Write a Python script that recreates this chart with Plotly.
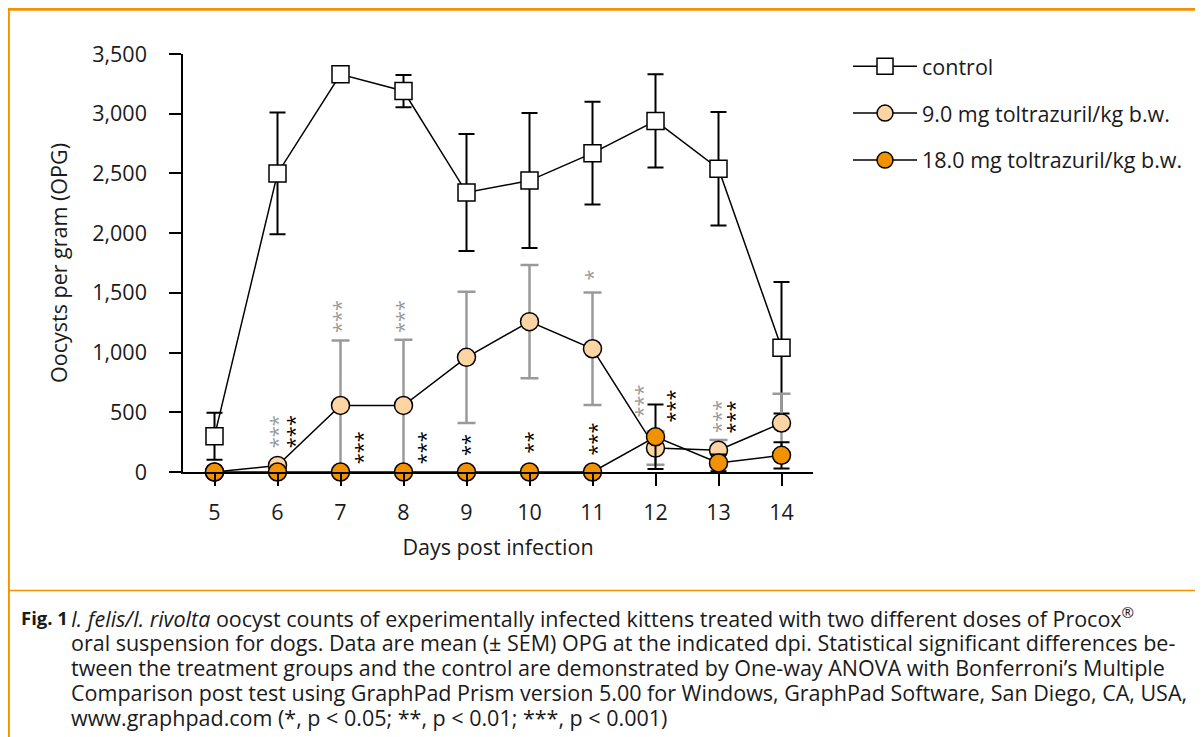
import plotly.graph_objects as go

# ---------------- data ----------------
days = [5, 6, 7, 8, 9, 10, 11, 12, 13, 14]
control_mean = [300, 2500, 3330, 3190, 2340, 2440, 2670, 2940, 2540, 1040]
control_sem = [197, 510, 40, 135, 490, 565, 430, 390, 475, 550]
low_mean = [0, 55, 557, 557, 960, 1259, 1032, 200, 182, 410]
low_sem = [0, 0, 545, 550, 550, 475, 470, 140, 85, 245]
high_mean = [0, 0, 0, 0, 0, 0, 0, 295, 76, 140]
high_sem = [0, 0, 0, 0, 0, 0, 0, 270, 70, 110]

series_names = ["control", "9.0 mg toltrazuril/kg b.w.", "18.0 mg toltrazuril/kg b.w."]

# significance labels (x in days, y in OPG)
sig_low_x = [6, 7, 8, 11, 11.79, 13.03]
sig_low_y = [337, 1302, 1302, 1650, 593, 463]
sig_low_txt = ["***", "***", "***", "*", "***", "***"]
sig_high_x = [6.26, 7.35, 8.35, 9.05, 10.05, 11.06, 12.3, 13.26]
sig_high_y = [341, 203, 203, 224, 245, 274, 551, 463]
sig_high_txt = ["***", "***", "***", "**", "**", "***", "***", "***"]

y_ticks = [0, 500, 1000, 1500, 2000, 2500, 3000, 3500]

caption_label = "<b>Fig. 1</b>"
caption_lines = [
    "<i>I. felis/I. rivolta</i> oocyst counts of experimentally infected kittens treated with two different doses of Procox<sup>®</sup>",
    "oral suspension for dogs. Data are mean (± SEM) OPG at the indicated dpi. Statistical significant differences be-",
    "tween the treatment groups and the control are demonstrated by One-way ANOVA with Bonferroni’s Multiple",
    "Comparison post test using GraphPad Prism version 5.00 for Windows, GraphPad Software, San Diego, CA, USA,",
    "www.graphpad.com (*, p < 0.05; **, p < 0.01; ***, p < 0.001)",
]

# ---------------- style ----------------
FONT = "Open Sans"
TXT = "#1a1a1a"
ORANGE = "#F39200"
PEACH = "#FCD5A2"
GRAY = "#9a9a9a"
FS = 21.5
CAP_FS = 21.5
AST_FS = 20

OFF = 8                      # page body margin
W, H = 1203 - OFF, 737 - OFF
L, R, T, B = 175.3, 805, 46.3, 463.7  # plot area in figure px

fig = go.Figure()

fig.add_trace(go.Scatter(
    x=days, y=control_mean, name=series_names[0], mode="lines+markers",
    line=dict(color="black", width=1.5),
    marker=dict(symbol="square", size=17, color="white", line=dict(color="black", width=1.5)),
    error_y=dict(type="data", array=control_sem, visible=True, color="black", thickness=2, width=8),
    cliponaxis=False, legendgroup="a",
))
fig.add_trace(go.Scatter(
    x=days, y=low_mean, name=series_names[1], mode="lines+markers",
    line=dict(color="black", width=1.5),
    marker=dict(symbol="circle", size=18, color=PEACH, line=dict(color="black", width=1.5)),
    error_y=dict(type="data", array=low_sem, visible=True, color=GRAY, thickness=2.5, width=9),
    cliponaxis=False, legendgroup="b",
))
fig.add_trace(go.Scatter(
    x=days, y=high_mean, name=series_names[2], mode="lines+markers",
    line=dict(color="black", width=1.5),
    marker=dict(symbol="circle", size=18, color=ORANGE, line=dict(color="black", width=1.5)),
    error_y=dict(type="data", array=high_sem, visible=True, color="black", thickness=2, width=8),
    cliponaxis=False, legendgroup="c",
))

annotations = []
for x, y, t in zip(sig_low_x, sig_low_y, sig_low_txt):
    annotations.append(dict(x=x, y=y, xref="x", yref="y", text=t, showarrow=False,
                            textangle=-90, font=dict(family=FONT, size=AST_FS, color=GRAY)))
for x, y, t in zip(sig_high_x, sig_high_y, sig_high_txt):
    annotations.append(dict(x=x, y=y, xref="x", yref="y", text=t, showarrow=False,
                            textangle=-90, font=dict(family=FONT, size=AST_FS, color="black")))


def px_x(p):  # screen px -> paper
    return (p - OFF - L) / (R - L)


def px_y(p):
    return (B - (p - OFF)) / (B - T)


cap_y = [617, 642, 667, 692, 717]
annotations.append(dict(x=px_x(19), y=px_y(cap_y[0]), xref="paper", yref="paper",
                        xanchor="left", yanchor="middle", text=caption_label, showarrow=False,
                        font=dict(family=FONT, size=18.5, color=TXT)))
for i, line in enumerate(caption_lines):
    annotations.append(dict(x=px_x(69), y=px_y(cap_y[i]), xref="paper", yref="paper",
                            xanchor="left", yanchor="middle", text=line, showarrow=False,
                            font=dict(family=FONT, size=CAP_FS, color=TXT)))

shapes = [
    dict(type="line", xref="paper", yref="paper", x0=px_x(8), x1=px_x(1220), y0=px_y(9.5), y1=px_y(9.5),
         line=dict(color=ORANGE, width=3)),
    dict(type="line", xref="paper", yref="paper", x0=px_x(9), x1=px_x(9), y0=px_y(8), y1=px_y(760),
         line=dict(color=ORANGE, width=2.5)),
    dict(type="line", xref="paper", yref="paper", x0=px_x(8), x1=px_x(1220), y0=px_y(590), y1=px_y(590),
         line=dict(color=ORANGE, width=1.5)),
]

fig.update_layout(
    width=W, height=H,
    margin=dict(l=L, r=W - R, t=T, b=H - B, pad=0),
    paper_bgcolor="white", plot_bgcolor="white",
    font=dict(family=FONT, size=FS, color=TXT),
    showlegend=True,
    legend=dict(x=px_x(848), y=px_y(46), xanchor="left", yanchor="top",
                font=dict(family=FONT, size=FS, color=TXT),
                tracegroupgap=16, itemwidth=64, bgcolor="rgba(0,0,0,0)", borderwidth=0),
    annotations=annotations,
    shapes=shapes,
)

fig.update_xaxes(
    range=[4.5, 14.5], tickvals=days, ticktext=[str(d) for d in days],
    showline=True, linecolor="black", linewidth=1.5, mirror=False,
    ticks="outside", ticklen=12, tickwidth=1.5, tickcolor="black",
    showgrid=False, zeroline=False, ticklabelstandoff=8,
    tickfont=dict(family=FONT, size=FS, color=TXT),
    title=dict(text="Days post infection", font=dict(family=FONT, size=FS, color=TXT), standoff=15),
)
fig.update_yaxes(
    range=[0, 3500], tickvals=y_ticks, tickformat=",",
    showline=True, linecolor="black", linewidth=1.5,
    ticks="outside", ticklen=12, tickwidth=1.5, tickcolor="black",
    showgrid=False, zeroline=False, ticklabelstandoff=18,
    tickfont=dict(family=FONT, size=FS, color=TXT),
    title=dict(text="Oocysts per gram (OPG)", font=dict(family=FONT, size=FS, color=TXT), standoff=19),
)

fig.write_html("out.html")
